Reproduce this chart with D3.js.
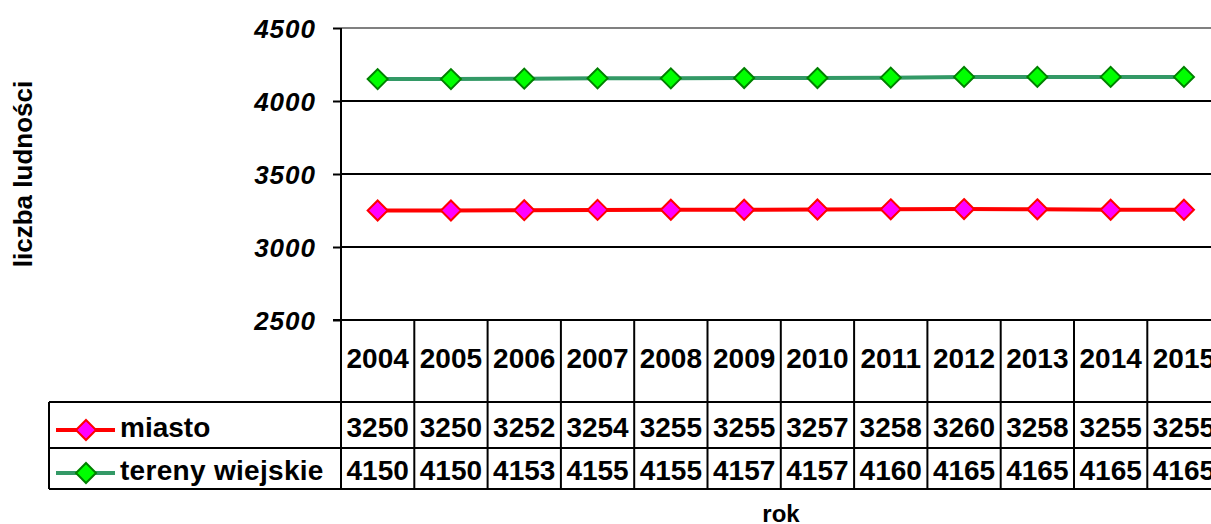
<!DOCTYPE html>
<head>
    <meta charset="utf-8">
    <script src="https://d3js.org/d3.v7.min.js"></script>
    <style>
        body { margin: 0; background: #fff; }
        text { font-family: "Liberation Sans", Arial, sans-serif; font-weight: bold; fill: #000; }
        .tick-label { font-style: italic; font-size: 26px; letter-spacing: 1px; }
        .cell { font-size: 28px; }
    </style>
</head>
<body>
    <div id="chart"></div>
</body>
<script>
    // data
    var years = ["2004", "2005", "2006", "2007", "2008", "2009", "2010", "2011", "2012", "2013", "2014", "2015"];
    var miasto = [3250, 3250, 3252, 3254, 3255, 3255, 3257, 3258, 3260, 3258, 3255, 3255];
    var tereny = [4150, 4150, 4153, 4155, 4155, 4157, 4157, 4160, 4165, 4165, 4165, 4165];
    var yTicks = [2500, 3000, 3500, 4000, 4500];

    var series = [
        { name: "miasto", values: miasto, line: "#ff0000", fill: "#ff00ff", stroke: "#ff0000" },
        { name: "tereny wiejskie", values: tereny, line: "#339966", fill: "#00ff00", stroke: "#008000" }
    ];

    var W = 1211, H = 524;
    var plotLeft = 341, plotTop = 28, plotBottom = 320;
    var colW = 73.3;
    var rows = [320, 402, 448, 489];  // header top, row1 top, row2 top, bottom
    var legendLeft = 49;

    var svg = d3.select("#chart").append("svg")
        .attr("width", W)
        .attr("height", H);

    var x = d3.scaleBand()
        .domain(years)
        .range([plotLeft, plotLeft + colW * years.length]);

    var y = d3.scaleLinear()
        .domain([2500, 4500])
        .range([plotBottom, plotTop]);

    // top border of plot area
    svg.append("line")
        .attr("x1", plotLeft).attr("x2", W)
        .attr("y1", y(4500)).attr("y2", y(4500))
        .attr("stroke", "#808080").attr("stroke-width", 2);

    // gridlines
    svg.selectAll(".grid")
        .data(yTicks.filter(function(d){ return d < 4500; }))
        .enter().append("line")
        .attr("class", "grid")
        .attr("x1", plotLeft).attr("x2", W)
        .attr("y1", function(d){ return y(d); })
        .attr("y2", function(d){ return y(d); })
        .attr("stroke", "#000").attr("stroke-width", 2);

    // y axis
    var yAxis = d3.axisLeft(y).tickValues(yTicks).tickSize(8).tickFormat(d3.format("d"));
    var ax = svg.append("g")
        .attr("transform", "translate(" + plotLeft + ",0)")
        .call(yAxis);
    ax.select(".domain").remove();
    ax.selectAll(".tick line").attr("stroke", "#000").attr("stroke-width", 2);
    ax.selectAll(".tick text")
        .attr("class", "tick-label")
        .attr("x", -25)
        .attr("dy", "9px")
        .attr("font-size", null)
        .attr("font-family", null);

    // vertical axis line down through the table
    svg.append("line")
        .attr("x1", plotLeft).attr("x2", plotLeft)
        .attr("y1", plotTop).attr("y2", rows[3])
        .attr("stroke", "#000").attr("stroke-width", 2);

    // table horizontal lines
    svg.append("line")
        .attr("x1", plotLeft - 8).attr("x2", W)
        .attr("y1", rows[0]).attr("y2", rows[0])
        .attr("stroke", "#000").attr("stroke-width", 2);
    [rows[1], rows[2], rows[3]].forEach(function(r){
        svg.append("line")
            .attr("x1", legendLeft).attr("x2", W)
            .attr("y1", r).attr("y2", r)
            .attr("stroke", "#000").attr("stroke-width", 2);
    });
    svg.append("line")
        .attr("x1", legendLeft).attr("x2", legendLeft)
        .attr("y1", rows[1]).attr("y2", rows[3])
        .attr("stroke", "#000").attr("stroke-width", 2);

    // column dividers
    svg.selectAll(".coldiv")
        .data(years)
        .enter().append("line")
        .attr("class", "coldiv")
        .attr("x1", function(d){ return x(d) + x.bandwidth(); })
        .attr("x2", function(d){ return x(d) + x.bandwidth(); })
        .attr("y1", rows[0]).attr("y2", rows[3])
        .attr("stroke", "#000").attr("stroke-width", 2);

    // header years
    svg.selectAll(".year")
        .data(years)
        .enter().append("text")
        .attr("class", "cell")
        .attr("x", function(d){ return x(d) + x.bandwidth() / 2; })
        .attr("y", 368)
        .attr("text-anchor", "middle")
        .text(function(d){ return d; });

    var rowBase = [437, 480];
    var legendY = [430, 473];

    var line = d3.line()
        .x(function(d, i){ return x(years[i]) + x.bandwidth() / 2; })
        .y(function(d){ return y(d); });

    function diamond(g, cx, cy, s) {
        g.append("path")
            .attr("d", "M" + cx + "," + (cy - 10) + "L" + (cx + 10) + "," + cy + "L" + cx + "," + (cy + 10) + "L" + (cx - 10) + "," + cy + "Z")
            .attr("fill", s.fill)
            .attr("stroke", s.stroke)
            .attr("stroke-width", 2);
    }

    series.forEach(function(s, k){
        // line
        svg.append("path")
            .datum(s.values)
            .attr("d", line)
            .attr("fill", "none")
            .attr("stroke", s.line)
            .attr("stroke-width", 4);
        var g = svg.append("g");
        s.values.forEach(function(v, i){
            diamond(g, x(years[i]) + x.bandwidth() / 2, y(v), s);
        });

        // table values
        svg.selectAll(".val" + k)
            .data(s.values)
            .enter().append("text")
            .attr("class", "cell")
            .attr("x", function(d, i){ return x(years[i]) + x.bandwidth() / 2; })
            .attr("y", rowBase[k])
            .attr("text-anchor", "middle")
            .text(function(d){ return d; });

        // legend key
        svg.append("line")
            .attr("x1", 56).attr("x2", 115)
            .attr("y1", legendY[k]).attr("y2", legendY[k])
            .attr("stroke", s.line).attr("stroke-width", 4);
        diamond(svg, 86, legendY[k], s);
        svg.append("text")
            .attr("class", "cell")
            .attr("x", 120)
            .attr("y", rowBase[k])
            .attr("letter-spacing", k === 1 ? "0.3px" : null)
            .text(s.name);
    });

    // axis titles
    svg.append("text")
        .attr("transform", "translate(32,174) rotate(-90)")
        .attr("text-anchor", "middle")
        .attr("font-size", 26)
        .text("liczba ludności");

    svg.append("text")
        .attr("x", 781)
        .attr("y", 522)
        .attr("text-anchor", "middle")
        .attr("font-size", 24)
        .text("rok");
</script>
